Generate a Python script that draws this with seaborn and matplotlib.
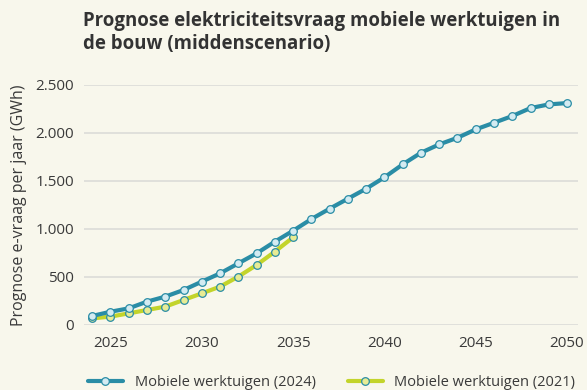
import pandas as pd
import matplotlib.pyplot as plt
import seaborn as sns
from matplotlib.ticker import FuncFormatter

years_2024 = list(range(2024, 2051))
vraag_2024 = [94, 138, 173, 243, 295, 364, 451, 537, 641, 745, 867, 981, 1102, 1210,
              1314, 1418, 1536, 1671, 1792, 1879, 1948, 2035, 2104, 2174, 2257, 2295, 2309]
years_2021 = list(range(2024, 2036))
vraag_2021 = [69, 87, 121, 156, 191, 260, 329, 399, 503, 624, 763, 912]

labels = ["Mobiele werktuigen (2024)", "Mobiele werktuigen (2021)"]
x_ticks = [2025, 2030, 2035, 2040, 2045, 2050]
y_ticks = [0, 500, 1000, 1500, 2000, 2500]

bg = "#f8f7ec"
blue = "#2a8da6"
green = "#c3d42b"

sns.set_theme(style="white")
plt.rcParams["font.family"] = ["Open Sans", "DejaVu Sans"]

fig = plt.figure(figsize=(5.87, 3.90), dpi=100, facecolor=bg)
ax = fig.add_axes([0.1431, 0.1667, 0.8416, 0.6161])
ax.set_facecolor(bg)

df_a = pd.DataFrame({"jaar": years_2024, "vraag": vraag_2024})
df_b = pd.DataFrame({"jaar": years_2021, "vraag": vraag_2021})

sns.lineplot(data=df_b, x="jaar", y="vraag", ax=ax, color=green, linewidth=3,
             marker="o", markersize=5.5, markerfacecolor="#e8ec94",
             markeredgecolor="#2a8da6", markeredgewidth=0.9, label=labels[1],
             clip_on=False, zorder=3)
sns.lineplot(data=df_a, x="jaar", y="vraag", ax=ax, color=blue, linewidth=3,
             marker="o", markersize=5.5, markerfacecolor="#d3ebf2",
             markeredgecolor="#2a8da6", markeredgewidth=0.9, label=labels[0],
             clip_on=False, zorder=4)

ax.set_xlim(2023.55, 2050.6)
ax.set_ylim(0, 2500)
ax.set_xticks(x_ticks)
ax.set_yticks(y_ticks)
ax.yaxis.set_major_formatter(FuncFormatter(lambda v, p: f"{int(v):,}".replace(",", ".")))
ax.grid(axis="y", color="#dcdcd8", linewidth=1.2)
ax.grid(axis="x", visible=False)
for s in ax.spines.values():
    s.set_visible(False)
ax.tick_params(axis="both", length=0, labelsize=11, colors="#3a3a3a")
ax.tick_params(axis="x", pad=8)
ax.tick_params(axis="y", pad=7)
ax.set_xlabel("")
ax.set_ylabel("Prognose e-vraag per jaar (GWh)", fontsize=11.5, color="#3a3a3a", labelpad=6)

fig.text(0.141, 0.972, "Prognose elektriciteitsvraag mobiele werktuigen in\nde bouw (middenscenario)",
         ha="left", va="top", fontsize=13.4, fontweight="bold", color="#333333", linespacing=1.2)

handles, labs = ax.get_legend_handles_labels()
order = [labs.index(labels[0]), labs.index(labels[1])]
ax.legend([handles[i] for i in order], [labs[i] for i in order], loc="center",
          bbox_to_anchor=(0.565, 0.02), bbox_transform=fig.transFigure, ncol=2,
          frameon=False, fontsize=10.5, handlelength=2.4, handletextpad=0.8,
          columnspacing=2.2, labelcolor="#3a3a3a")

fig.savefig("out.png", dpi=100, facecolor=bg)
